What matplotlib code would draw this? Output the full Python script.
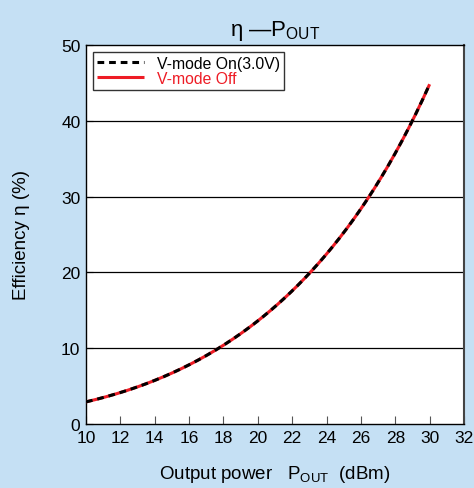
import numpy as np
import matplotlib.pyplot as plt

plt.rcParams['font.family'] = ['Liberation Sans', 'DejaVu Sans']
plt.rcParams['mathtext.fontset'] = 'custom'
plt.rcParams['mathtext.rm'] = 'Liberation Sans'
plt.rcParams['mathtext.it'] = 'Liberation Sans'

# output power (dBm) and efficiency (%)
pout = [10, 12, 14, 16, 18, 20, 22, 23, 24, 26, 26.5, 28, 29, 30]
eff_off = [2.9, 4.2, 5.7, 7.8, 10.4, 13.6, 17.6, 19.8, 22.5, 28.4, 30.0, 35.8, 40.0, 44.8]
eff_on = eff_off
xticks = [10, 12, 14, 16, 18, 20, 22, 24, 26, 28, 30, 32]
yticks = [0, 10, 20, 30, 40, 50]

bg = '#c5e0f4'
fig = plt.figure(figsize=(4.74, 4.89), dpi=100, facecolor=bg)
ax = fig.add_axes([0.1814, 0.1309, 0.7975, 0.7751])
ax.set_facecolor('white')

# smooth the curve through the read points
xs = np.linspace(pout[0], pout[-1], 200)
coef = np.polyfit(pout, np.log(eff_off), 3)
ys = np.exp(np.polyval(coef, xs))

ax.plot(xs, ys, color='#ee1c25', lw=2.2, solid_capstyle='butt', label='V-mode Off', zorder=3)
ax.plot(xs, ys, color='black', lw=2.2, ls=(0, (2.2, 1.6)), label='V-mode On(3.0V)', zorder=4)

ax.set_xlim(10, 32)
ax.set_ylim(0, 50)
ax.set_xticks(xticks)
ax.set_yticks(yticks)
ax.tick_params(direction='in', length=5, labelsize=12.5, colors='black', pad=4)
ax.tick_params(axis='x', length=6, color='#555555')
for y in yticks[1:-1]:
    ax.axhline(y, color='black', lw=0.9, zorder=1)
for s in ax.spines.values():
    s.set_color('black')
    s.set_linewidth(1.0)
ax.spines['right'].set_color('#444444')
ax.spines['right'].set_linewidth(1.5)

ax.set_xlabel('Output power   P$_{\\mathrm{OUT}}$  (dBm)', fontsize=13.5, labelpad=13)
ax.set_ylabel('Efficiency \u03b7 (%)', fontsize=13.5, labelpad=22)
ax.set_title('\u03b7 \u2014P$_{\\mathrm{OUT}}$', fontsize=16, pad=7)

h, l = ax.get_legend_handles_labels()
leg = ax.legend([h[1], h[0]], [l[1], l[0]], loc='upper left', fontsize=11.3,
                frameon=True, fancybox=False, edgecolor='black', borderpad=0.25,
                handlelength=3.0, handletextpad=0.8, labelspacing=0.0,
                borderaxespad=0.45)
leg.get_frame().set_linewidth(1.0)
leg.get_texts()[1].set_color('#ee1c25')

fig.savefig('out.png', dpi=100, facecolor=bg)
